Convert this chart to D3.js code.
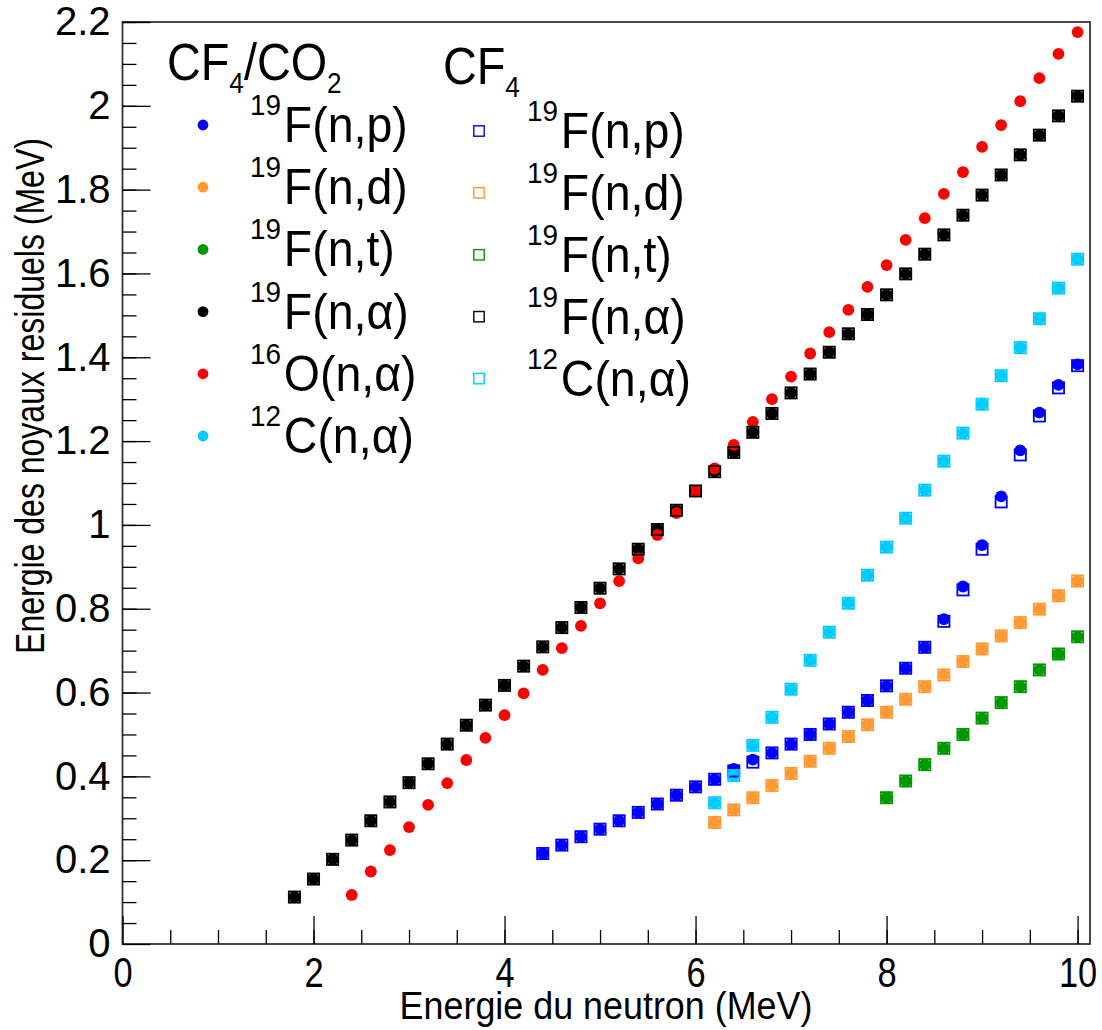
<!DOCTYPE html>
<html>
<head>
<meta charset="utf-8">
<style>
  body { margin: 0; background: #fff; }
  svg text { font-family: "Liberation Sans", Arial, sans-serif; fill: #000; }
  .axis .domain { display: none; }
  .axis line { stroke: #000; stroke-width: 1.3px; }
</style>
</head>
<body>
<div id="chart"></div>
<script src="https://cdnjs.cloudflare.com/ajax/libs/d3/7.8.5/d3.min.js"></script>
<script>
// neutron energies (MeV) for each reaction
var eAlpha = [1.8,2.0,2.2,2.4,2.6,2.8,3.0,3.2,3.4,3.6,3.8,4.0,4.2,4.4,4.6,4.8,5.0,5.2,5.4,5.6,5.8,6.0,6.2,6.4,6.6,6.8,7.0,7.2,7.4,7.6,7.8,8.0,8.2,8.4,8.6,8.8,9.0,9.2,9.4,9.6,9.8,10.0];
var eOxy   = [2.4,2.6,2.8,3.0,3.2,3.4,3.6,3.8,4.0,4.2,4.4,4.6,4.8,5.0,5.2,5.4,5.6,5.8,6.0,6.2,6.4,6.6,6.8,7.0,7.2,7.4,7.6,7.8,8.0,8.2,8.4,8.6,8.8,9.0,9.2,9.4,9.6,9.8,10.0];
var eProt  = [4.4,4.6,4.8,5.0,5.2,5.4,5.6,5.8,6.0,6.2,6.4,6.6,6.8,7.0,7.2,7.4,7.6,7.8,8.0,8.2,8.4,8.6,8.8,9.0,9.2,9.4,9.6,9.8,10.0];
var eDeut  = [6.2,6.4,6.6,6.8,7.0,7.2,7.4,7.6,7.8,8.0,8.2,8.4,8.6,8.8,9.0,9.2,9.4,9.6,9.8,10.0];
var eTrit  = [8.0,8.2,8.4,8.6,8.8,9.0,9.2,9.4,9.6,9.8,10.0];

// residual nucleus energies (MeV), CF4/CO2 mixture
var fAlpha = [0.112,0.155,0.202,0.248,0.294,0.339,0.385,0.430,0.477,0.522,0.570,0.617,0.663,0.709,0.755,0.803,0.849,0.895,0.942,0.989,1.035,1.081,1.127,1.173,1.221,1.266,1.315,1.360,1.412,1.456,1.502,1.549,1.599,1.646,1.692,1.739,1.787,1.835,1.883,1.930,1.976,2.023];
var oAlpha = [0.117,0.173,0.224,0.279,0.332,0.384,0.439,0.492,0.546,0.598,0.654,0.706,0.759,0.813,0.866,0.920,0.976,1.028,1.081,1.135,1.191,1.246,1.300,1.354,1.409,1.460,1.513,1.568,1.620,1.680,1.732,1.790,1.842,1.902,1.954,2.011,2.066,2.124,2.176];
var fProt  = [0.216,0.236,0.256,0.274,0.294,0.314,0.334,0.355,0.375,0.393,0.418,0.440,0.456,0.477,0.500,0.525,0.553,0.581,0.616,0.658,0.708,0.775,0.853,0.952,1.068,1.178,1.268,1.334,1.383];
var fDeut  = [0.290,0.320,0.349,0.378,0.407,0.436,0.467,0.495,0.523,0.553,0.584,0.614,0.642,0.674,0.704,0.735,0.767,0.799,0.831,0.866];
var fTrit  = [0.349,0.389,0.428,0.467,0.500,0.539,0.576,0.614,0.654,0.692,0.733];
var cAlpha = [0.337,0.402,0.474,0.541,0.608,0.677,0.744,0.813,0.880,0.947,1.016,1.083,1.152,1.219,1.288,1.356,1.423,1.492,1.565,1.634];

// pure CF4 (only 19F(n,p) differs visibly)
var fProtCF4 = [0.216,0.236,0.256,0.274,0.294,0.314,0.334,0.355,0.375,0.393,0.413,0.434,0.456,0.477,0.500,0.525,0.553,0.581,0.616,0.658,0.708,0.770,0.845,0.942,1.055,1.167,1.260,1.327,1.380];

var mixSeries = [
  {iso: "19", label: "F(n,p)", color: "#0000ff", e: eProt, v: fProt},
  {iso: "19", label: "F(n,d)", color: "#ff9933", e: eDeut, v: fDeut},
  {iso: "19", label: "F(n,t)", color: "#009900", e: eTrit, v: fTrit},
  {iso: "19", label: "F(n,\u03b1)", color: "#000000", e: eAlpha, v: fAlpha},
  {iso: "16", label: "O(n,\u03b1)", color: "#ff0000", e: eOxy, v: oAlpha},
  {iso: "12", label: "C(n,\u03b1)", color: "#00ccff", e: eDeut, v: cAlpha}
];
var cf4Series = [
  {iso: "19", label: "F(n,p)", color: "#0000ff", e: eProt, v: fProtCF4},
  {iso: "19", label: "F(n,d)", color: "#ff9933", e: eDeut, v: fDeut},
  {iso: "19", label: "F(n,t)", color: "#009900", e: eTrit, v: fTrit},
  {iso: "19", label: "F(n,\u03b1)", color: "#000000", e: eAlpha, v: fAlpha},
  {iso: "12", label: "C(n,\u03b1)", color: "#00ccff", e: eDeut, v: cAlpha}
];

var W = 1102, H = 1030;
var svg = d3.select("#chart").append("svg")
    .attr("width", W).attr("height", H);

var x = d3.scaleLinear().domain([0, 10.13]).range([122.5, 1090]);
var y = d3.scaleLinear().domain([0, 2.2]).range([944, 22]);

// frame
svg.append("rect")
    .attr("x", x(0)).attr("y", y(2.2))
    .attr("width", x(10.13) - x(0)).attr("height", y(0) - y(2.2))
    .attr("fill", "none").attr("stroke", "#333").attr("stroke-width", 1.8);

// x axis: majors every 2, minors every 0.5, ticks pointing inward
var xAxis = svg.append("g").attr("class", "axis")
    .attr("transform", "translate(0," + y(0) + ")")
    .call(d3.axisBottom(x).tickValues([0, 2, 4, 6, 8, 10]).tickSize(-28).tickFormat(d3.format("d")));
xAxis.selectAll("text")
    .style("font-size", "43px")
    .attr("y", 0).attr("dy", null)
    .attr("transform", "translate(0,43) scale(0.8,1)");
svg.append("g").attr("class", "axis")
    .attr("transform", "translate(0," + y(0) + ")")
    .call(d3.axisBottom(x).tickValues(d3.range(0.5, 10.1, 0.5)).tickSize(-14).tickFormat(""));

// y axis: majors every 0.2, minors every 0.05
var yAxis = svg.append("g").attr("class", "axis")
    .attr("transform", "translate(" + x(0) + ",0)")
    .call(d3.axisLeft(y).tickValues(d3.range(0, 2.21, 0.2)).tickSize(-28).tickPadding(12)
      .tickFormat(function(d) { return +d.toFixed(1); }));
yAxis.selectAll("text").style("font-size", "40px");
svg.append("g").attr("class", "axis")
    .attr("transform", "translate(" + x(0) + ",0)")
    .call(d3.axisLeft(y).tickValues(d3.range(0.05, 2.2, 0.05)).tickSize(-14).tickFormat(""));

// axis titles
svg.append("text")
    .attr("transform", "translate(606,1019) scale(0.92,1)")
    .attr("text-anchor", "middle")
    .style("font-size", "39px")
    .text("Energie du neutron (MeV)");
svg.append("text")
    .attr("transform", "translate(44,396) rotate(-90) scale(0.8,1)")
    .attr("text-anchor", "middle")
    .style("font-size", "40px")
    .text("Energie des noyaux residuels (MeV)");

// markers: CF4/CO2 as filled circles, CF4 as open squares on top
var plot = svg.append("g");
mixSeries.forEach(function(s) {
  plot.append("g").selectAll("circle")
    .data(s.v)
    .enter().append("circle")
      .attr("cx", function(d, i) { return x(s.e[i]); })
      .attr("cy", function(d) { return y(d); })
      .attr("r", 5.9)
      .attr("fill", s.color);
});
cf4Series.forEach(function(s) {
  plot.append("g").selectAll("rect")
    .data(s.v)
    .enter().append("rect")
      .attr("x", function(d, i) { return x(s.e[i]) - 5.6; })
      .attr("y", function(d) { return y(d) - 5.6; })
      .attr("width", 11.2).attr("height", 11.2)
      .attr("fill", "none")
      .attr("stroke", s.color)
      .attr("stroke-width", 1.8);
});

// legends
var leg = svg.append("g");
function header(x0, base, parts) {
  var t = leg.append("text")
      .attr("transform", "translate(" + x0 + "," + base + ") scale(0.9,1)");
  parts.forEach(function(p) {
    t.append("tspan").text(p[0]).style("font-size", p[1] + "px").attr("dy", p[2]);
  });
}
header(167, 80, [["CF", 52, 0], ["4", 29, 13], ["/CO", 52, -13], ["2", 29, 13]]);
header(443, 84, [["CF", 52, 0], ["4", 29, 13]]);

function legendRows(list, mx, tx, y0, step, square) {
  list.forEach(function(s, i) {
    var cy = y0 + i * step;
    if (square) {
      leg.append("rect").attr("x", mx - 5.2).attr("y", cy - 5.2)
        .attr("width", 10.4).attr("height", 10.4)
        .attr("fill", "none").attr("stroke", s.color).attr("stroke-width", 1.4);
    } else {
      leg.append("circle").attr("cx", mx).attr("cy", cy).attr("r", 5.4).attr("fill", s.color);
    }
    var t = leg.append("text")
        .attr("transform", "translate(" + tx + "," + (cy + 17) + ") scale(0.93,1)");
    t.append("tspan").text(s.iso).style("font-size", "30px").attr("dy", -27);
    t.append("tspan").text(s.label).style("font-size", "50px").attr("dy", 27).attr("dx", 3);
  });
}
legendRows(mixSeries, 203, 250, 125, 62.2, false);
legendRows(cf4Series, 479, 527, 131, 61.9, true);
</script>
</body>
</html>
